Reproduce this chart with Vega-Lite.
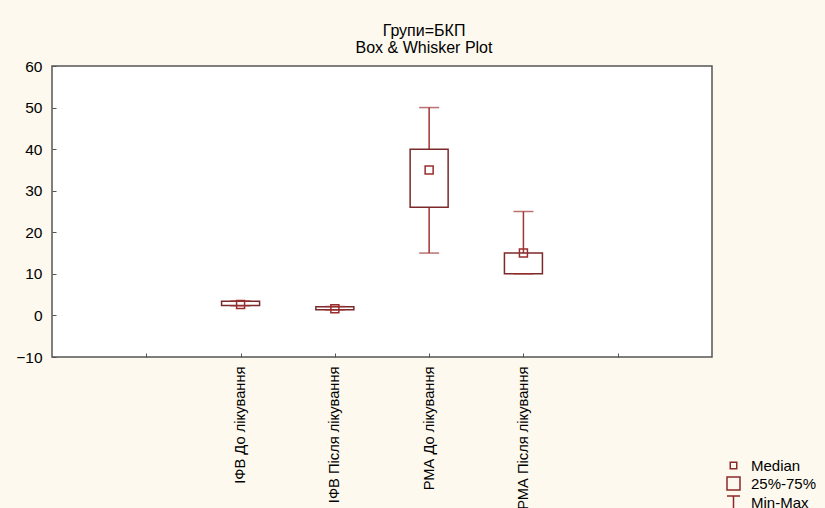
{
  "$schema": "https://vega.github.io/schema/vega-lite/v6.json",
  "width": 660,
  "height": 291,
  "autosize": {"type": "none"},
  "padding": {"left": 52, "top": 66, "right": 113, "bottom": 151},
  "background": "#fdf9ee",
  "config": {
    "font": "Liberation Sans",
    "view": {"fill": "white", "stroke": "#555555", "strokeWidth": 1.5},
    "axis": {
      "domain": false,
      "grid": false,
      "ticks": true,
      "tickSize": -4,
      "tickColor": "#555555",
      "tickWidth": 1,
      "labelColor": "#000000",
      "titleColor": "#000000"
    }
  },
  "title": {
    "text": ["Групи=БКП", "Box & Whisker Plot"],
    "fontSize": 16,
    "fontWeight": "normal",
    "lineHeight": 17,
    "anchor": "middle",
    "dx": 42,
    "offset": 3,
    "color": "#000000"
  },
  "data": {
    "values": [
      {"group": "ІФВ До лікування", "min": 2.3, "q1": 2.4, "median": 2.6, "q3": 3.4, "max": 3.5},
      {"group": "ІФВ Після лікування", "min": 1.3, "q1": 1.35, "median": 1.6, "q3": 2.1, "max": 2.15},
      {"group": "РМА До лікування", "min": 15, "q1": 26, "median": 35, "q3": 40, "max": 50},
      {"group": "РМА Після лікування", "min": 10, "q1": 10, "median": 15, "q3": 15, "max": 25}
    ]
  },
  "encoding": {
    "x": {
      "field": "group",
      "type": "nominal",
      "scale": {
        "type": "point",
        "domain": [" ", "ІФВ До лікування", "ІФВ Після лікування", "РМА До лікування", "РМА Після лікування", "  "],
        "padding": 1
      },
      "axis": {
        "title": null,
        "labelAngle": -90,
        "labelFontSize": 14.7,
        "labelPadding": 13,
        "labelLimit": 300
      }
    }
  },
  "layer": [
    {
      "mark": {"type": "rule", "color": "#a03434", "strokeWidth": 1.5},
      "encoding": {
        "y": {
          "field": "min",
          "type": "quantitative",
          "scale": {"domain": [-10, 60], "nice": false, "zero": false},
          "axis": {"title": null, "values": [-10, 0, 10, 20, 30, 40, 50, 60], "labelFontSize": 15.5, "labelPadding": 14}
        },
        "y2": {"field": "max"}
      }
    },
    {
      "mark": {"type": "bar", "width": 38, "fill": "white", "stroke": "#7a2a2a", "strokeWidth": 1.5},
      "encoding": {
        "y": {"field": "q1", "type": "quantitative"},
        "y2": {"field": "q3"}
      }
    },
    {
      "mark": {"type": "tick", "orient": "horizontal", "size": 20, "thickness": 1.5, "color": "#a03434"},
      "encoding": {"y": {"field": "max", "type": "quantitative"}}
    },
    {
      "mark": {"type": "tick", "orient": "horizontal", "size": 20, "thickness": 1.5, "color": "#a03434"},
      "encoding": {"y": {"field": "min", "type": "quantitative"}}
    },
    {
      "mark": {"type": "point", "filled": false, "size": 256, "strokeWidth": 1.5, "color": "#9a2c2c", "opacity": 1},
      "encoding": {
        "y": {"field": "median", "type": "quantitative"},
        "shape": {
          "datum": "Median",
          "scale": {
            "domain": ["Median", "25%-75%", "Min-Max"],
            "range": ["M-0.5,-0.5H0.5V0.5H-0.5Z", "M-1,-1H1V1H-1Z", "M-1,-1H1M0,-1V1"]
          },
          "legend": {
            "title": null,
            "orient": "none",
            "legendX": 674,
            "legendY": 392,
            "padding": 0,
            "symbolSize": 169,
            "symbolStrokeWidth": 1.5,
            "symbolStrokeColor": "#8c2a2a",
            "symbolFillColor": "transparent",
            "labelFontSize": 15,
            "labelColor": "#000000",
            "labelOffset": 10,
            "rowPadding": 0
          }
        }
      }
    }
  ]
}
